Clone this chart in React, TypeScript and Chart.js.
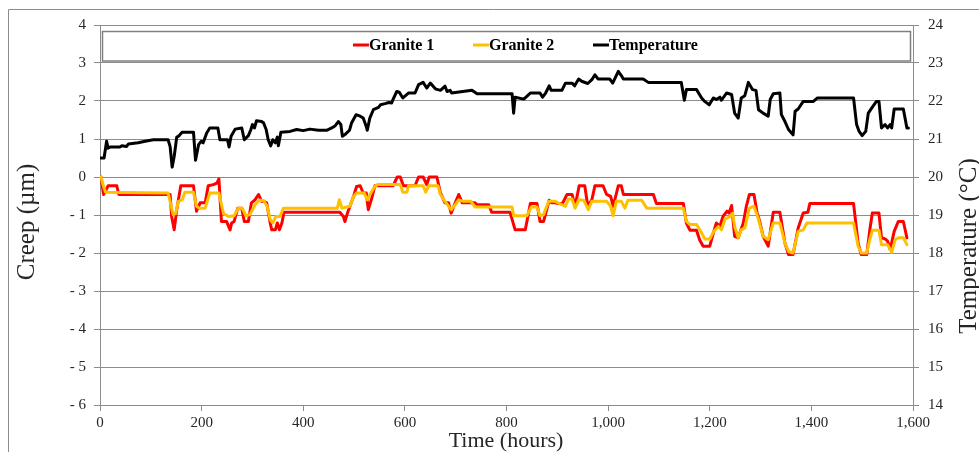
import React, { useEffect, useRef } from "react";
import { Chart, registerables } from "chart.js";

Chart.register(...registerables);

// ---- Data ----
const granite1Hours = [0, 2, 7, 16, 33, 37, 138, 141, 146, 151, 159, 184, 190, 197, 207, 213, 223, 230, 234, 239, 249, 256, 259, 264, 271, 279, 284, 292, 298, 305, 312, 318, 322, 328, 335, 338, 345, 349, 353, 358, 362, 472, 479, 482, 487, 492, 499, 505, 512, 518, 524, 528, 535, 541, 577, 585, 591, 597, 620, 627, 636, 643, 648, 663, 670, 679, 686, 691, 699, 706, 713, 738, 742, 765, 771, 807, 817, 837, 847, 860, 866, 873, 884, 889, 896, 902, 910, 919, 929, 935, 943, 954, 960, 968, 974, 990, 997, 1005, 1010, 1020, 1026, 1030, 1089, 1095, 1148, 1154, 1161, 1174, 1180, 1187, 1200, 1208, 1213, 1220, 1226, 1234, 1238, 1243, 1249, 1256, 1266, 1272, 1278, 1287, 1293, 1299, 1305, 1315, 1325, 1338, 1348, 1355, 1364, 1374, 1384, 1393, 1397, 1483, 1492, 1498, 1509, 1515, 1520, 1533, 1538, 1545, 1550, 1555, 1563, 1571, 1581, 1588];
const granite1Creep = [0, 0, -0.46, -0.23, -0.23, -0.46, -0.46, -1.04, -1.39, -0.86, -0.23, -0.23, -0.9, -0.68, -0.68, -0.23, -0.2, -0.16, -0.05, -1.17, -1.17, -1.39, -1.21, -1.17, -0.82, -0.82, -1.17, -1.17, -0.68, -0.6, -0.46, -0.64, -0.64, -0.68, -1.21, -1.39, -1.39, -1.21, -1.39, -1.21, -0.93, -0.93, -1.04, -1.17, -0.95, -0.77, -0.51, -0.25, -0.23, -0.42, -0.42, -0.86, -0.55, -0.23, -0.23, 0, 0, -0.23, -0.23, 0, 0, -0.2, 0, 0, -0.42, -0.68, -0.68, -0.95, -0.68, -0.46, -0.68, -0.68, -0.73, -0.73, -0.93, -0.93, -1.39, -1.39, -0.7, -0.7, -1.17, -1.17, -0.61, -0.68, -0.68, -0.7, -0.7, -0.46, -0.46, -0.77, -0.23, -0.23, -0.77, -0.6, -0.23, -0.23, -0.46, -0.51, -0.77, -0.23, -0.23, -0.46, -0.46, -0.7, -0.7, -1.21, -1.4, -1.4, -1.65, -1.82, -1.82, -1.43, -1.21, -1.3, -1.04, -0.9, -0.95, -0.75, -1.56, -1.6, -1.21, -0.77, -0.46, -0.46, -0.93, -1.21, -1.56, -1.82, -0.93, -0.93, -1.74, -2.04, -2.04, -1.34, -0.95, -0.93, -0.7, -0.7, -1.74, -2.04, -2.04, -1.39, -0.95, -0.95, -1.6, -1.63, -1.69, -1.91, -1.43, -1.17, -1.17, -1.6];

const granite2Hours = [0, 2, 7, 11, 134, 140, 144, 149, 154, 162, 167, 184, 190, 195, 207, 216, 234, 243, 253, 264, 272, 280, 287, 295, 305, 313, 322, 329, 335, 340, 346, 354, 361, 467, 471, 476, 492, 499, 505, 520, 526, 533, 541, 546, 591, 596, 604, 607, 636, 641, 647, 665, 670, 679, 691, 699, 706, 715, 730, 738, 811, 814, 840, 849, 860, 866, 873, 883, 896, 909, 916, 922, 929, 935, 942, 952, 961, 968, 997, 1005, 1010, 1016, 1026, 1033, 1039, 1066, 1076, 1148, 1154, 1161, 1174, 1184, 1190, 1200, 1208, 1217, 1223, 1230, 1240, 1245, 1249, 1256, 1262, 1269, 1278, 1287, 1296, 1305, 1315, 1325, 1338, 1348, 1355, 1364, 1374, 1384, 1391, 1483, 1492, 1498, 1509, 1515, 1520, 1533, 1538, 1550, 1558, 1565, 1571, 1581, 1588];
const granite2Creep = [0, 0, -0.25, -0.4, -0.42, -0.77, -0.99, -0.96, -0.64, -0.6, -0.4, -0.4, -0.77, -0.82, -0.82, -0.42, -0.42, -0.96, -1.04, -1.02, -0.82, -0.82, -1.02, -0.99, -0.73, -0.61, -0.62, -0.77, -1.12, -1.21, -1.04, -1.04, -0.82, -0.82, -0.6, -0.82, -0.77, -0.51, -0.42, -0.42, -0.6, -0.42, -0.25, -0.2, -0.2, -0.4, -0.4, -0.23, -0.23, -0.4, -0.23, -0.23, -0.46, -0.64, -0.86, -0.73, -0.6, -0.64, -0.64, -0.79, -0.79, -1.02, -1.02, -0.79, -0.79, -1.02, -0.99, -0.64, -0.64, -0.73, -0.77, -0.58, -0.58, -0.82, -0.6, -0.61, -0.86, -0.64, -0.64, -0.77, -1.02, -0.64, -0.64, -0.82, -0.61, -0.61, -0.82, -0.82, -1.17, -1.25, -1.25, -1.47, -1.63, -1.63, -1.43, -1.3, -1.39, -1.11, -1.04, -0.95, -1.3, -1.6, -1.39, -1.34, -0.82, -0.77, -1.12, -1.56, -1.65, -1.21, -1.21, -1.74, -1.96, -2.0, -1.43, -1.39, -1.21, -1.21, -1.82, -2.0, -2.0, -1.65, -1.4, -1.4, -1.78, -1.78, -1.98, -1.65, -1.6, -1.6, -1.78];

const temperatureHours = [0, 8, 13, 16, 20, 39, 43, 52, 56, 75, 89, 105, 134, 138, 142, 146, 151, 154, 157, 162, 184, 186, 188, 194, 199, 203, 210, 216, 232, 236, 251, 254, 258, 266, 279, 284, 292, 297, 300, 304, 308, 318, 322, 327, 331, 336, 340, 345, 349, 351, 356, 374, 387, 400, 413, 430, 446, 456, 463, 469, 474, 477, 484, 491, 495, 504, 512, 518, 524, 526, 531, 538, 548, 552, 561, 568, 574, 577, 584, 589, 596, 607, 620, 627, 636, 643, 650, 653, 660, 670, 679, 683, 689, 692, 732, 742, 811, 814, 817, 834, 840, 847, 866, 871, 877, 884, 888, 909, 916, 929, 934, 942, 948, 960, 968, 974, 980, 1003, 1009, 1020, 1026, 1030, 1069, 1079, 1144, 1150, 1154, 1174, 1184, 1190, 1199, 1207, 1213, 1220, 1223, 1233, 1243, 1249, 1256, 1262, 1269, 1276, 1284, 1291, 1296, 1305, 1315, 1319, 1325, 1338, 1341, 1348, 1355, 1364, 1368, 1374, 1384, 1404, 1412, 1483, 1489, 1494, 1500, 1507, 1512, 1519, 1528, 1533, 1538, 1545, 1550, 1555, 1558, 1563, 1581, 1588, 1591];
const temperatureValues = [20.5, 20.5, 20.94, 20.76, 20.79, 20.79, 20.82, 20.8, 20.87, 20.9, 20.94, 20.98, 20.98, 20.8, 20.26, 20.54, 21.05, 21.07, 21.11, 21.18, 21.18, 20.8, 20.44, 20.85, 20.94, 20.9, 21.16, 21.29, 21.29, 20.98, 20.98, 20.79, 21.07, 21.26, 21.29, 20.98, 21.09, 21.25, 21.38, 21.29, 21.48, 21.46, 21.42, 21.25, 20.98, 20.82, 20.98, 20.9, 21.05, 20.82, 21.18, 21.2, 21.25, 21.22, 21.26, 21.23, 21.23, 21.29, 21.35, 21.46, 21.38, 21.07, 21.14, 21.23, 21.42, 21.64, 21.6, 21.55, 21.33, 21.23, 21.55, 21.77, 21.83, 21.9, 21.93, 21.96, 21.95, 22.05, 22.25, 22.23, 22.08, 22.21, 22.21, 22.43, 22.49, 22.34, 22.47, 22.43, 22.32, 22.28, 22.39, 22.25, 22.28, 22.21, 22.28, 22.19, 22.19, 21.68, 22.1, 22.05, 22.12, 22.21, 22.21, 22.1, 22.21, 22.4, 22.28, 22.28, 22.47, 22.47, 22.4, 22.58, 22.52, 22.46, 22.56, 22.69, 22.58, 22.58, 22.47, 22.78, 22.67, 22.58, 22.58, 22.49, 22.49, 22.02, 22.3, 22.3, 22.08, 21.99, 21.9, 22.08, 22.04, 22.1, 22.02, 22.21, 22.17, 21.68, 21.55, 22.08, 22.14, 22.49, 22.3, 22.28, 21.77, 21.68, 21.6, 22.04, 22.19, 22.21, 21.64, 21.46, 21.25, 21.11, 21.73, 21.79, 21.99, 21.99, 22.08, 22.08, 21.38, 21.2, 21.09, 21.2, 21.68, 21.82, 21.99, 21.99, 21.29, 21.38, 21.29, 21.38, 21.29, 21.79, 21.79, 21.29, 21.29];

const seriesNames = ["Granite 1", "Granite 2", "Temperature"];
const seriesColors = ["#ff0000", "#ffc000", "#000000"];

const xTitle = "Time (hours)";
const yTitle = "Creep (\u00b5m)";
const y1Title = "Temperature (\u00b0C)";

const FONT = "'Liberation Serif', 'Times New Roman', serif";
const GRID = "#8c8c8c";
const TEXT = "#262626";

const toPoints = (xs: number[], ys: number[]) => xs.map((x, i) => ({ x, y: ys[i] }));

const decorPlugin = {
  id: "decor",
  afterDraw(chart: any) {
    const ctx = chart.ctx as CanvasRenderingContext2D;
    ctx.save();
    // outer chart border (left and top)
    ctx.strokeStyle = "#8c8c8c";
    ctx.lineWidth = 1;
    ctx.beginPath();
    ctx.moveTo(8.5, 452);
    ctx.lineTo(8.5, 9.5);
    ctx.lineTo(979, 9.5);
    ctx.stroke();

    // legend box
    ctx.fillStyle = "#ffffff";
    ctx.fillRect(102, 31, 809, 30);
    ctx.strokeStyle = "#7f7f7f";
    ctx.lineWidth = 1.5;
    ctx.strokeRect(102.5, 31.5, 808, 29.5);

    const items = [353, 473, 593];
    ctx.font = `bold 16px ${FONT}`;
    ctx.textBaseline = "middle";
    ctx.textAlign = "left";
    items.forEach((x, i) => {
      ctx.strokeStyle = seriesColors[i];
      ctx.lineWidth = 3;
      ctx.beginPath();
      ctx.moveTo(x, 45);
      ctx.lineTo(x + 16, 45);
      ctx.stroke();
      ctx.fillStyle = "#000";
      ctx.fillText(seriesNames[i], x + 16, 46);
    });

    // axis titles
    ctx.fillStyle = TEXT;
    ctx.font = `22px ${FONT}`;
    ctx.textAlign = "center";
    ctx.textBaseline = "middle";
    ctx.fillText(xTitle, 506, 441);

    ctx.font = `25px ${FONT}`;
    ctx.save();
    ctx.translate(27, 222);
    ctx.rotate(-Math.PI / 2);
    ctx.fillText(yTitle, 0, 0);
    ctx.restore();

    ctx.save();
    ctx.translate(969, 246);
    ctx.rotate(-Math.PI / 2);
    ctx.fillText(y1Title, 0, 0);
    ctx.restore();

    ctx.restore();
  },
};

export default function App() {
  const ref = useRef<HTMLCanvasElement>(null);

  useEffect(() => {
    if (!ref.current) return;
    const tickFont = { family: FONT, size: 15 };
    const chart = new Chart(ref.current, {
      type: "line",
      data: {
        datasets: [
          {
            label: seriesNames[0],
            data: toPoints(granite1Hours, granite1Creep),
            borderColor: seriesColors[0],
            backgroundColor: seriesColors[0],
            borderWidth: 3,
            yAxisID: "y",
            order: 2,
          },
          {
            label: seriesNames[1],
            data: toPoints(granite2Hours, granite2Creep),
            borderColor: seriesColors[1],
            backgroundColor: seriesColors[1],
            borderWidth: 3,
            yAxisID: "y",
            order: 1,
          },
          {
            label: seriesNames[2],
            data: toPoints(temperatureHours, temperatureValues),
            borderColor: seriesColors[2],
            backgroundColor: seriesColors[2],
            borderWidth: 3,
            yAxisID: "y1",
            order: 0,
          },
        ],
      },
      options: {
        responsive: false,
        animation: false,
        devicePixelRatio: 1,
        elements: {
          point: { radius: 0 },
          line: { tension: 0, borderJoinStyle: "round", borderCapStyle: "round" },
        },
        layout: { padding: { top: 25, left: 0, right: 0, bottom: 0 } },
        plugins: {
          legend: { display: false },
          tooltip: { enabled: false },
        },
        scales: {
          x: {
            type: "linear",
            min: 0,
            max: 1600,
            ticks: {
              stepSize: 200,
              font: tickFont,
              color: TEXT,
              padding: 3,
              maxRotation: 0,
              callback: (v: any) => Number(v).toLocaleString("en-US"),
            },
            grid: { drawOnChartArea: false, drawTicks: true, tickLength: 6, color: GRID },
            border: { display: true, color: GRID, width: 1 },
            afterFit: (s: any) => {
              s.height = 47;
            },
          },
          y: {
            position: "left",
            min: -6,
            max: 4,
            ticks: {
              stepSize: 1,
              font: tickFont,
              color: TEXT,
              padding: 8,
              callback: (v: any) => (v < 0 ? "- " + Math.abs(v) : String(v)),
            },
            grid: { color: GRID, tickLength: 6 },
            border: { display: true, color: GRID, width: 1 },
            afterFit: (s: any) => {
              s.width = 100;
            },
          },
          y1: {
            position: "right",
            min: 14,
            max: 24,
            ticks: { stepSize: 1, font: tickFont, color: TEXT, padding: 9 },
            grid: { drawOnChartArea: false, tickLength: 6, color: GRID },
            border: { display: true, color: GRID, width: 1 },
            afterFit: (s: any) => {
              s.width = 66;
            },
          },
        },
      },
      plugins: [decorPlugin],
    } as any);
    return () => chart.destroy();
  }, []);

  return (
    <div
      style={{
        position: "fixed",
        left: 0,
        top: 0,
        width: 979,
        height: 452,
        background: "#ffffff",
      }}
    >
      <canvas ref={ref} width={979} height={452} style={{ width: 979, height: 452, display: "block" }} />
    </div>
  );
}
